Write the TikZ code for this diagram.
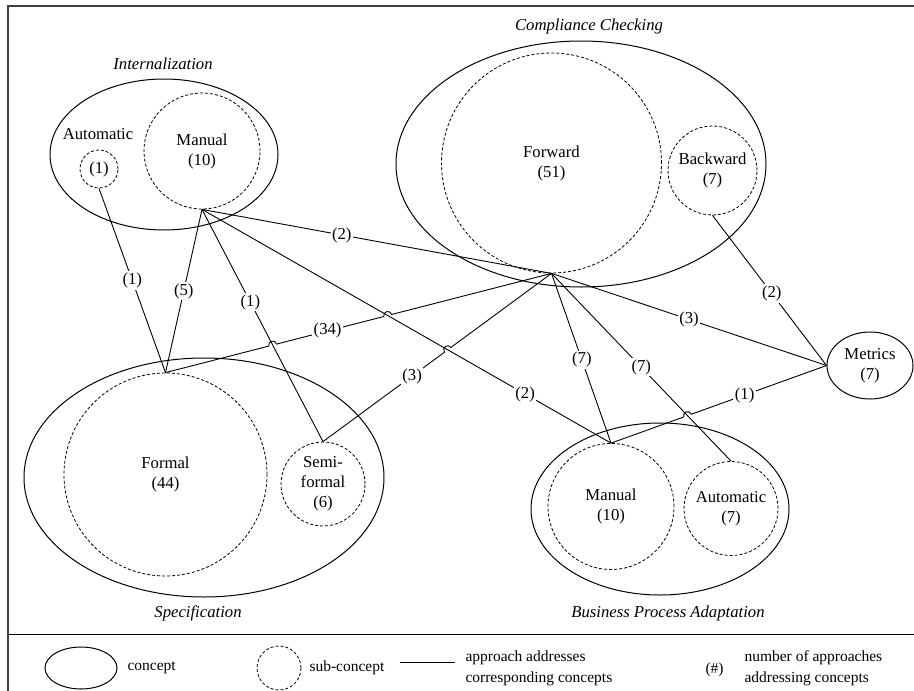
\documentclass[tikz,border=0pt]{standalone}
\usepackage{fontspec}
\setmainfont{Liberation Serif}
\usetikzlibrary{shapes.geometric,calc,positioning}

\begin{document}
\begin{tikzpicture}[x=1pt,y=-1pt,
  font=\fontsize{16.7}{20}\selectfont,
  concept/.style={ellipse, draw, line width=1pt, inner sep=0pt, align=center},
  subconcept/.style={circle, draw, line width=0.8pt, dash pattern=on 3pt off 2pt, inner sep=0pt, align=center},
  conceptname/.style={font=\fontsize{16.7}{20}\selectfont\itshape},
  linkline/.style={line width=0.9pt},
  edgecount/.style={fill=white, inner sep=1.5pt},
  hop/.style={bend left=90, looseness=1.7},
  legendtext/.style={font=\fontsize{15.5}{21}\selectfont, align=left, anchor=west}]
\useasboundingbox (0,0) rectangle (914,691);
% frame and legend separator
\draw[black!75, line width=1.4pt] (8,691) -- (8,6) -- (914,6);
\draw[line width=1pt] (8,634) -- (914,634);

% concepts
\node[concept, minimum width=228, minimum height=151] (intern) at (164,154.5) {};
\node[concept, minimum width=370, minimum height=246] (comp) at (581,164) {};
\node[concept, minimum width=360, minimum height=239] (spec) at (204,477.5) {};
\node[concept, minimum width=258, minimum height=172] (bpa) at (660,509) {};
\node[concept, minimum width=86, minimum height=67] (metrics) at (870,365.5) {Metrics\\(7)};

% concept names
\node[conceptname] (internname) at (163,64) {Internalization};
\node[conceptname] (compname) at (589,26) {Compliance Checking};
\node[conceptname] (specname) at (198,613) {Specification};
\node[conceptname] (bpaname) at (668,613) {Business Process Adaptation};

% sub-concepts
\node[subconcept, minimum size=38] (intauto) at (99,169) {(1)};
\node (intautoname) at (98,134) {Automatic};
\node[subconcept, minimum size=116] (intmanual) at (202,151) {Manual\\(10)};
\node[subconcept, minimum size=220] (forward) at (551.5,163) {Forward\\(51)};
\node[subconcept, minimum size=89] (backward) at (712.5,170.5) {Backward\\(7)};
\node[subconcept, minimum size=203] (formal) at (165.5,474.5) {Formal\\(44)};
\node[subconcept, minimum size=84] (semi) at (323,484) {Semi-\\formal\\(6)};
\node[subconcept, minimum size=126] (bpamanual) at (611,506.5) {Manual\\(10)};
\node[subconcept, minimum size=94] (bpaauto) at (731,508.5) {Automatic\\(7)};

% crossings where a line hops over another
\coordinate (jA) at (intersection of intmanual.south--semi.north and formal.north--forward.south);
\coordinate (jB) at (intersection of intmanual.south--bpamanual.north and formal.north--forward.south);
\coordinate (jC) at (intersection of intmanual.south--bpamanual.north and semi.north--forward.south);
\coordinate (jD) at (intersection of forward.south--bpaauto.north and bpamanual.north--metrics.west);

% approaches
\draw[linkline] (intauto.south) -- node[edgecount, pos=0.5] {(1)} (formal.north);
\draw[linkline] (intmanual.south) -- node[edgecount, pos=0.5] {(5)} (formal.north);
\draw[linkline] (intmanual.south) -- node[edgecount, pos=0.4] {(1)} (semi.north);
\draw[linkline] (intmanual.south) -- node[edgecount, pos=0.4] {(2)} (forward.south);
\draw[linkline] (intmanual.south) -- node[edgecount, pos=0.79] {(2)} (bpamanual.north);
\draw[linkline] (formal.north) -- ($(jA)!4pt!(formal.north)$) to[hop] ($(jA)!4pt!(forward.south)$)
  -- ($(jB)!4pt!(formal.north)$) to[hop] ($(jB)!4pt!(forward.south)$) -- (forward.south);
\path (formal.north) -- node[edgecount, pos=0.42] {(34)} (forward.south);
\draw[linkline] (semi.north) -- ($(jC)!4pt!(semi.north)$) to[hop] ($(jC)!4pt!(forward.south)$) -- (forward.south);
\path (semi.north) -- node[edgecount, pos=0.39] {(3)} (forward.south);
\draw[linkline] (forward.south) -- node[edgecount, pos=0.5] {(3)} (metrics.west);
\draw[linkline] (backward.south) -- node[edgecount, pos=0.52] {(2)} (metrics.west);
\draw[linkline] (forward.south) -- node[edgecount, pos=0.51] {(7)} (bpamanual.north);
\draw[linkline] (forward.south) -- node[edgecount, pos=0.5] {(7)} (bpaauto.north);
\draw[linkline] (bpamanual.north) -- ($(jD)!4pt!(bpamanual.north)$) to[hop] ($(jD)!4pt!(metrics.west)$) -- (metrics.west);
\path (bpamanual.north) -- node[edgecount, pos=0.62] {(1)} (metrics.west);

% legend
\node[concept, minimum width=72, minimum height=42] (legconcept) at (81,668) {};
\node[legendtext] (legconcepttext) at (124,668) {concept};
\node[subconcept, ellipse, minimum width=44, minimum height=44] (legsub) at (279,668) {};
\node[legendtext] (legsubtext) at (306,668) {sub-concept};
\coordinate (leglinea) at (400,662);
\coordinate (leglineb) at (455,662);
\draw[linkline] (leglinea) -- (leglineb);
\node[legendtext] (leglinetext) at (462,668) {approach addresses\\corresponding concepts};
\node[legendtext] (legcount) at (702,670) {(\#)};
\node[legendtext] (legcounttext) at (741,668) {number of approaches\\addressing concepts};
\end{tikzpicture}
\end{document}
